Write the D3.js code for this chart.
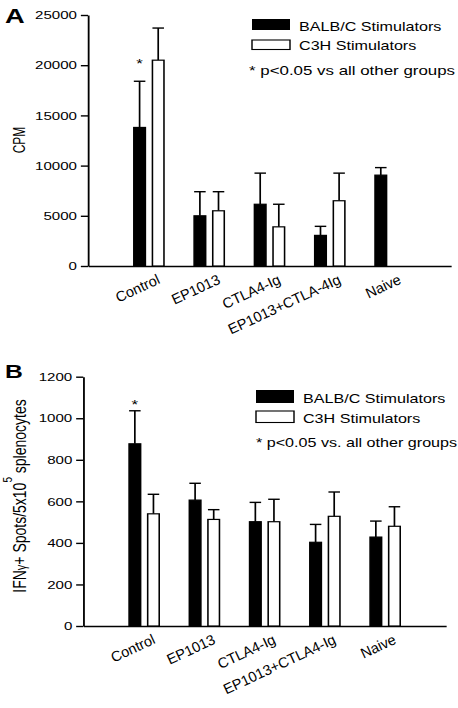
<!DOCTYPE html>
<html>
<head>
<meta charset="utf-8">
<script src="https://cdn.jsdelivr.net/npm/d3@7"></script>
<style>
  html, body { margin: 0; padding: 0; background: #fff; }
  svg { display: block; font-family: "Liberation Sans", Arial, Helvetica, sans-serif; }
</style>
</head>
<body>
<svg id="chart" width="458" height="708"></svg>
<script>
// ---------- data ----------
const categories = ["Control", "EP1013", "CTLA4-Ig", "EP1013+CTLA-4Ig", "Naive"];
const categoriesB = ["Control", "EP1013", "CTLA4-Ig", "EP1013+CTLA4-Ig", "Naive"];
const seriesNames = ["BALB/C Stimulators", "C3H Stimulators"];

// Panel A: CPM
const cpmBalb    = [13800, 5000, 6150, 3050, 9050];
const cpmBalbErr = [4600, 2400, 3100, 900, 750];
const cpmC3h     = [20500, 5500, 3900, 6500, null];
const cpmC3hErr  = [3200, 1900, 2250, 2750, null];
const cpmTicks   = [0, 5000, 10000, 15000, 20000, 25000];
const cpmSig     = [true, false, false, false, false]; // asterisk on BALB/C

// Panel B: IFN-gamma spots
const spotBalb    = [877, 606, 502, 403, 428];
const spotBalbErr = [159, 81, 93, 86, 77];
const spotC3h     = [540, 513, 502, 528, 480];
const spotC3hErr  = [94, 47, 108, 117, 94];
const spotTicks   = [0, 200, 400, 600, 800, 1000, 1200];
const spotSig     = [true, false, false, false, false];

const noteA = "* p<0.05 vs all other groups";
const noteB = "* p<0.05 vs. all other groups";

// ---------- layout ----------
const SX = 1.3; // horizontal stretch of the reference image
const X = px => px / SX;
const svg = d3.select("#chart");

function panel(opt) {
  const g = svg.append("g").attr("transform", `scale(${SX},1)`);
  const y = d3.scaleLinear().domain([0, opt.ticks[opt.ticks.length - 1]]).range([opt.y0, opt.y1]);
  const x0 = d3.scaleBand().domain(opt.cats).range([X(opt.xStart), X(opt.xEnd)])
    .paddingInner(0.5).paddingOuter(0.76);
  const x1 = d3.scaleBand().domain([0, 1]).range([0, x0.bandwidth()]).paddingInner(0.38);

  // y axis
  const ya = g.append("g").attr("transform", `translate(${X(opt.xStart)},0)`)
    .call(d3.axisLeft(y).tickValues(opt.ticks).tickFormat(d3.format("d"))
      .tickSize(5.5).tickSizeOuter(0).tickPadding(3));
  ya.selectAll("path, line").attr("stroke", "#000").attr("stroke-width", 1.4);
  ya.selectAll("text").attr("fill", "#000").style("font-size", "11.6px")
    .style("font-family", "Liberation Sans, Arial, sans-serif");

  // x axis (line only; labels drawn below)
  const xa = g.append("g").attr("transform", `translate(0,${opt.y0})`)
    .call(d3.axisBottom(x0).tickSize(0).tickSizeOuter(0).tickFormat(""));
  xa.select("path").attr("stroke", "#000").attr("stroke-width", 1.4);

  // rotated category labels, placed in unscaled root coordinates
  svg.append("g").selectAll("text").data(opt.cats).join("text")
    .attr("x", 0).attr("y", 0)
    .attr("transform", d => {
      const px = (x0(d) + x0.bandwidth() / 2) * SX + 12;
      const py = opt.y0 + 17;
      return `translate(${px},${py}) rotate(-25)`;
    })
    .attr("text-anchor", "end")
    .style("font-size", "14.5px")
    .attr("fill", "#000")
    .text(d => d);

  // bars
  const series = [
    { v: opt.s0, e: opt.e0, fill: "#000" },
    { v: opt.s1, e: opt.e1, fill: "#fff" }
  ];
  series.forEach((s, si) => {
    opt.cats.forEach((c, i) => {
      if (s.v[i] == null) return;
      const bx = x0(c) + x1(si);
      const bw = x1.bandwidth();
      const top = y(s.v[i]);
      const etop = y(s.v[i] + s.e[i]);
      const cx = bx + bw / 2;
      g.append("line").attr("x1", cx).attr("x2", cx).attr("y1", top).attr("y2", etop)
        .attr("stroke", "#000").attr("stroke-width", 1.3);
      g.append("line").attr("x1", bx).attr("x2", bx + bw).attr("y1", etop).attr("y2", etop)
        .attr("stroke", "#000").attr("stroke-width", 1.4);
      g.append("rect").attr("x", bx).attr("y", top).attr("width", bw).attr("height", opt.y0 - top)
        .attr("fill", s.fill).attr("stroke", "#000").attr("stroke-width", 1.2);
      if (si === 0 && opt.sig[i]) {
        g.append("text").attr("x", cx).attr("y", etop - opt.starGap)
          .attr("text-anchor", "middle").style("font-size", "13px").text("*");
      }
    });
  });

  // panel letter
  g.append("text").attr("x", X(5)).attr("y", opt.letterY)
    .style("font-size", opt.letterSize).style("font-weight", "bold").text(opt.letter);

  // legend
  const L = opt.legend;
  g.append("rect").attr("x", X(L.x)).attr("y", L.y1).attr("width", X(38)).attr("height", L.h1)
    .attr("fill", "#000");
  g.append("rect").attr("x", X(L.x)).attr("y", L.y2).attr("width", X(38)).attr("height", L.h2)
    .attr("fill", "#fff").attr("stroke", "#000").attr("stroke-width", 1.1);
  g.append("text").attr("x", X(L.tx)).attr("y", L.b1).style("font-size", "12.4px").text(seriesNames[0]);
  g.append("text").attr("x", X(L.tx)).attr("y", L.b2).style("font-size", "12.4px").text(seriesNames[1]);
  g.append("text").attr("x", X(L.nx)).attr("y", L.nb).style("font-size", L.nSize).text(opt.note);

  return g;
}

const gA = panel({
  cats: categories, s0: cpmBalb, e0: cpmBalbErr, s1: cpmC3h, e1: cpmC3hErr,
  ticks: cpmTicks, sig: cpmSig, starGap: 13.5,
  xStart: 88, xEnd: 451, y0: 266, y1: 15,
  letter: "A", letterY: 23.5, letterSize: "21px", note: noteA,
  legend: { x: 252, y1: 19, h1: 11, y2: 40, h2: 9.5, tx: 299, b1: 31, b2: 50, nx: 249, nb: 75, nSize: "13px" }
});
gA.append("text").attr("transform", `translate(${X(25)},140) rotate(-90)`)
  .attr("text-anchor", "middle").style("font-size", "12px").text("CPM");

const gB = panel({
  cats: categoriesB, s0: spotBalb, e0: spotBalbErr, s1: spotC3h, e1: spotC3hErr,
  ticks: spotTicks, sig: spotSig, starGap: 2,
  xStart: 83.3, xEnd: 446, y0: 626, y1: 376.7,
  letter: "B", letterY: 378.5, letterSize: "19px", note: noteB,
  legend: { x: 256, y1: 390, h1: 13, y2: 411, h2: 11.5, tx: 303, b1: 403, b2: 423, nx: 256, nb: 447, nSize: "12.4px" }
});
const yt = gB.append("text").attr("transform", `translate(${X(26)},496) rotate(-90)`)
  .attr("text-anchor", "middle").style("font-size", "14px");
yt.append("tspan").text("IFN");
yt.append("tspan").style("font-size", "11px").text("\u03B3");
yt.append("tspan").text("+ Spots/5x10");
yt.append("tspan").attr("dy", -11).style("font-size", "10px").text("5");
yt.append("tspan").attr("dy", 11).text(" splenocytes");
</script>
</body>
</html>
